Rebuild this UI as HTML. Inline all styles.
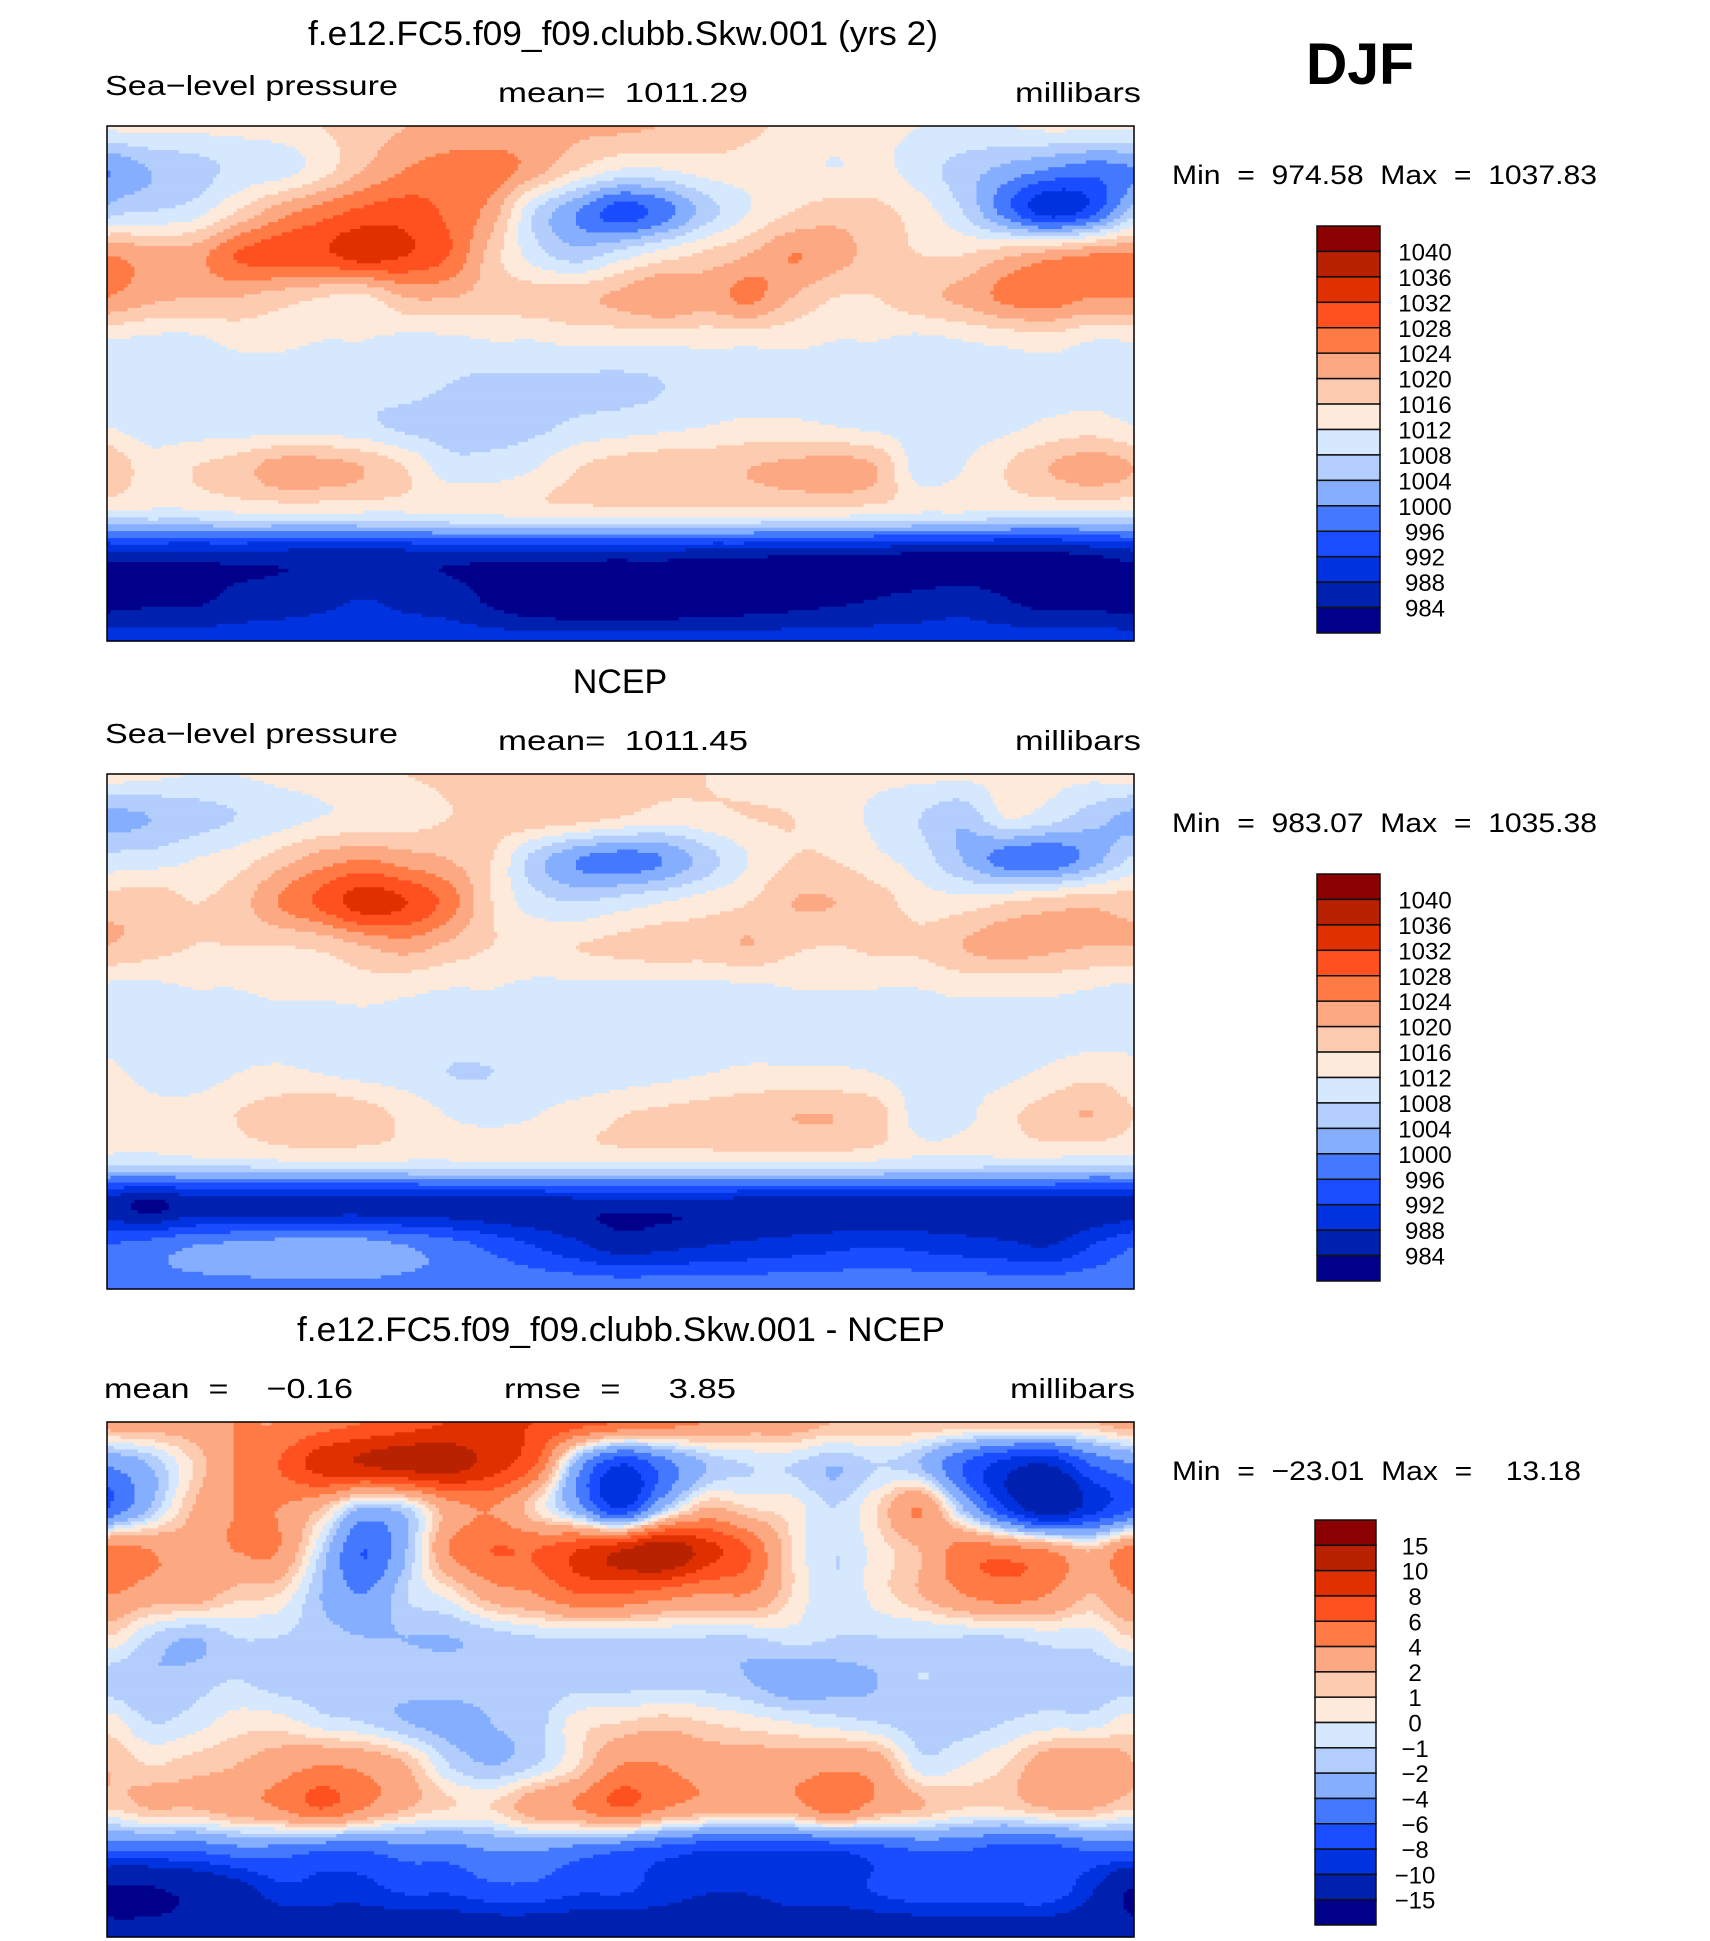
<!DOCTYPE html>
<html><head><meta charset="utf-8">
<style>
html,body{margin:0;padding:0;background:#fff;}
svg{display:block;}
text{font-family:"Liberation Sans",sans-serif;fill:#000;white-space:pre;}
</style></head>
<body>
<svg id="fig" width="1710" height="1941" viewBox="0 0 1710 1941" xmlns="http://www.w3.org/2000/svg" xml:space="preserve">
<rect width="1710" height="1941" fill="#fff"/>
<text x="1306" y="84" font-size="58" font-weight="bold" textLength="108" lengthAdjust="spacingAndGlyphs">DJF</text>

<text x="308" y="45" font-size="34" textLength="630" lengthAdjust="spacingAndGlyphs">f.e12.FC5.f09_f09.clubb.Skw.001 (yrs 2)</text>
<text x="105" y="95" font-size="28" textLength="293" lengthAdjust="spacingAndGlyphs">Sea−level pressure</text>
<text x="498" y="102" font-size="28" textLength="250" lengthAdjust="spacingAndGlyphs">mean=  1011.29</text>
<text x="1015" y="102" font-size="28" textLength="126" lengthAdjust="spacingAndGlyphs">millibars</text>
<text x="1172" y="184" font-size="27" textLength="425" lengthAdjust="spacingAndGlyphs">Min  =  974.58  Max  =  1037.83</text>
<g id="map1"></g>
<g id="cb1"></g>

<text x="620" y="693" font-size="34" text-anchor="middle">NCEP</text>
<text x="105" y="743" font-size="28" textLength="293" lengthAdjust="spacingAndGlyphs">Sea−level pressure</text>
<text x="498" y="750" font-size="28" textLength="250" lengthAdjust="spacingAndGlyphs">mean=  1011.45</text>
<text x="1015" y="750" font-size="28" textLength="126" lengthAdjust="spacingAndGlyphs">millibars</text>
<text x="1172" y="832" font-size="27" textLength="425" lengthAdjust="spacingAndGlyphs">Min  =  983.07  Max  =  1035.38</text>
<g id="map2"></g>
<g id="cb2"></g>

<text x="297" y="1341" font-size="34" textLength="648" lengthAdjust="spacingAndGlyphs">f.e12.FC5.f09_f09.clubb.Skw.001 - NCEP</text>
<text x="104" y="1398" font-size="28" textLength="249" lengthAdjust="spacingAndGlyphs">mean  =    −0.16</text>
<text x="504" y="1398" font-size="28" textLength="232" lengthAdjust="spacingAndGlyphs">rmse  =     3.85</text>
<text x="1010" y="1398" font-size="28" textLength="125" lengthAdjust="spacingAndGlyphs">millibars</text>
<text x="1172" y="1480" font-size="27" textLength="409" lengthAdjust="spacingAndGlyphs">Min  =  −23.01  Max  =    13.18</text>
<g id="map3"></g>
<g id="cb3"></g>
</svg>

<script>
const colors = ['#00008A','#0020B0','#0032E0','#1A4DFF','#4478FF','#85AEFE','#B3CDFD','#D6E8FD','#FEEADB','#FDCBB0','#FCA983','#FF7A45','#FF5020','#E03000','#B82200','#8B0000'];
const slpLevels = [984,988,992,996,1000,1004,1008,1012,1016,1020,1024,1028,1032,1036,1040];
const diffLevels = [-15,-10,-8,-6,-4,-2,-1,0,1,2,4,6,8,10,15];
const slpTickLabels = ['1040','1036','1032','1028','1024','1020','1016','1012','1008','1004','1000','996','992','988','984'];
const diffTickLabels = ['15','10','8','6','4','2','1','0','−1','−2','−4','−6','−8','−10','−15'];
const lons = [0,15,30,45,60,75,90,105,120,135,150,165,180,195,210,225,240,255,270,285,300,315,330,345,360];
const lats = [90,75,60,45,30,15,0,-15,-30,-45,-60,-75,-90];

const modelSLP = [
[1013,1013,1013,1013,1014,1016,1018,1020,1021,1021,1021,1021,1021,1020,1019,1017,1015,1014,1013,1012,1012,1012,1013,1013,1013],
[1000,1004,1006,1009,1010,1014,1020,1024,1026,1026,1022,1016,1012,1012,1014,1014,1013,1012,1013,1010,1006,1003,1000,998,1000],
[1006,1008,1010,1016,1022,1026,1029,1030,1027,1022,1008,1000,994,998,1006,1012,1016,1018,1017,1014,1008,998,990,994,1006],
[1024,1022,1022,1028,1030,1031,1034,1032,1028,1018,1010,1006,1010,1014,1017,1020,1024,1022,1018,1016,1016,1019,1022,1024,1024],
[1024,1021,1020,1020,1018,1016,1015,1020,1020,1018,1018,1019,1021,1024,1022,1025,1020,1016,1016,1019,1021,1025,1026,1024,1024],
[1012,1011,1011,1013,1013,1012,1012,1011,1011,1012,1012,1013,1013,1013,1013,1013,1013,1012,1012,1011,1012,1013,1014,1012,1012],
[1010,1010,1010,1010,1010,1010,1010,1010,1008,1007,1007,1007,1007,1008,1010,1010,1010,1010,1010,1010,1010,1010,1010,1010,1010],
[1012,1010,1010,1010,1010,1010,1009,1007,1006,1006,1007,1009,1010,1011,1012,1013,1013,1012,1011,1010,1010,1011,1013,1014,1012],
[1020,1014,1016,1018,1022,1022,1020,1016,1010,1010,1012,1016,1018,1019,1019,1020,1021,1022,1020,1010,1012,1016,1020,1022,1020],
[1011,1011,1011,1012,1012,1012,1012,1012,1013,1013,1014,1014,1014,1014,1014,1014,1014,1014,1013,1012,1012,1011,1011,1011,1011],
[986,986,986,986,986,986,986,986,986,986,986,986,986,986,985,985,984,984,984,983,983,983,983,984,986],
[982,983,983,985,986,987,988,987,986,983,980,979,978,979,980,981,982,983,984,985,986,984,982,982,982],
[990,990,990,990,990,990,990,990,990,990,990,990,990,990,990,990,990,990,990,990,990,990,990,990,990]
];
const ncepSLP = [
[1014,1013,1012,1012,1013,1014,1015,1016,1017,1017,1018,1018,1018,1017,1016,1015,1014,1013,1013,1013,1013,1013,1013,1013,1014],
[1003,1004,1006,1008,1010,1012,1013,1014,1016,1018,1019,1018,1016,1014,1015,1016,1016,1014,1011,1008,1005,1012,1010,1006,1003],
[1009,1010,1012,1014,1018,1022,1024,1022,1020,1016,1006,1000,998,1000,1006,1012,1016,1016,1013,1010,1004,998,997,1002,1009],
[1018,1019,1016,1018,1024,1029,1034,1032,1026,1016,1010,1008,1010,1012,1014,1016,1020,1020,1018,1014,1014,1016,1018,1019,1018],
[1020,1018,1016,1016,1016,1017,1020,1022,1019,1016,1015,1016,1017,1018,1018,1020,1017,1016,1017,1017,1020,1022,1021,1020,1020],
[1011,1011,1012,1012,1013,1013,1014,1013,1012,1012,1011,1011,1011,1011,1011,1011,1012,1012,1012,1012,1013,1013,1013,1012,1011],
[1011,1010,1010,1010,1010,1010,1010,1010,1010,1010,1010,1010,1010,1010,1010,1010,1010,1010,1010,1010,1010,1010,1010,1010,1011],
[1013,1011,1010,1012,1013,1012,1011,1010,1008,1008,1009,1009,1010,1011,1012,1013,1013,1013,1012,1010,1010,1011,1013,1015,1013],
[1016,1013,1014,1016,1018,1020,1018,1015,1012,1011,1012,1014,1016,1017,1018,1019,1020,1020,1018,1010,1011,1015,1018,1020,1016],
[1010,1010,1011,1011,1012,1012,1012,1012,1012,1013,1013,1013,1013,1013,1013,1013,1013,1013,1012,1011,1011,1011,1011,1010,1010],
[986,983,986,986,986,986,986,986,986,986,986,986,986,986,986,986,986,986,986,986,986,986,986,986,986],
[996,998,1000,1001,1002,1002,1002,1000,998,995,992,989,986,987,988,989,990,991,992,991,990,989,988,992,996],
[999,999,999,999,999,999,999,999,999,999,999,999,999,999,999,999,999,999,999,999,999,999,999,999,999]
];
const diffSLP = [
[3,3,3,4,4,5,6,7,8,8,8,7,6,5,4,3,3,2,2,2,2,2,2,2,3],
[-4,-2,1,4,6,9,10,11,11,9,6,-3,-8,-5,-2,-1,-1,-2,-1,-2,-6,-9,-10,-6,-4],
[-6,-2,2,4,4,2,-2,-1,3,4,1,-3,-8,-2,2,1,0.5,-1,1,4,-2,-8,-12,-9,-6],
[5,4,3,4,4,-1,-6,-2,4,6,6,8,10,12,9,6,1,-1,0.5,2,5,5,4,2,5],
[4,3,3,1.5,1,-2,-4,-1,0.5,3,4,6,6,5,4,4,1,-1,0.5,2,4,5,4,2,4],
[1,-1,-2,-1,-1,-1.5,-2,-2,-2,-1.5,-1,-1,-1,-1,-1,-1,-0.5,-1,-1,-1,-1,-1,-0.5,-0.5,1],
[-1.5,-2,-1.5,-1,-1.5,-1.5,-1.5,-1.5,-1.5,-1.5,-1.5,-1.5,-1.5,-1.5,-1.5,-2,-3,-2.5,-2,-1,-1.5,-1.5,-1.5,-1.5,-1.5],
[0.5,-1,-0.5,0.5,0.5,-0.5,-1,-2,-2.5,-2,-1.5,0.5,1,1.5,1,0.5,0,-0.5,-1,-1.5,-1.5,-1,-0.5,-0.5,0.5],
[2,1,1.5,2,3,4,3.5,2,-1,-2,-1,1,4,4,3,3,3,3.5,3,-0.5,0,1,3,3.5,2],
[1,2,2,3,4,6,4,2,1,1,3,4,6,4,3,3,3,5,3,2,1,1,2,2,1],
[-6,-6,-6,-5,-5,-6,-6,-5,-5,-4,-4,-5,-6,-7,-8,-8,-8,-8,-7,-6,-6,-7,-7,-6,-6],
[-16,-16,-14,-12,-9,-9,-9,-8,-8,-7,-7,-8,-8,-9,-10,-10,-9,-9,-8,-7,-7,-7,-7,-10,-16],
[-13,-13,-13,-13,-13,-13,-13,-13,-13,-13,-13,-13,-13,-13,-13,-13,-13,-13,-13,-13,-13,-13,-13,-13,-13]
];

const NS = 'http://www.w3.org/2000/svg';
const MAP_X = 107, MAP_W = 1027, MAP_H = 515;
function xScale(lon){ return MAP_X + (lon - lons[0]) / (lons[lons.length-1] - lons[0]) * MAP_W; }
function yScale(lat, top){ return top + (lats[0] - lat) / (lats[0] - lats[lats.length-1]) * MAP_H; }
function cr(p0,p1,p2,p3,t){
  return 0.5*((2*p1) + (-p0+p2)*t + (2*p0-5*p1+4*p2-p3)*t*t + (-p0+3*p1-3*p2+p3)*t*t*t);
}
function sample(grid, lon, lat){
  const nLon = lons.length - 1, nLat = lats.length;
  const fx = (lon - lons[0]) / 15, fy = (lats[0] - lat) / 15;
  const j = Math.floor(fx), i = Math.min(Math.floor(fy), nLat - 2);
  const tx = fx - j, ty = fy - i;
  const row = r => { const rr = Math.max(0, Math.min(nLat-1, r)); const g = grid[rr];
    const c = k => g[((k % nLon) + nLon) % nLon];
    return cr(c(j-1), c(j), c(j+1), c(j+2), tx); };
  return cr(row(i-1), row(i), row(i+1), row(i+2), ty);
}
function levelIndex(v, levels){ let k = 0; while (k < levels.length && v >= levels[k]) k++; return k; }

function drawMap(gid, grid, levels, top){
  const g = document.getElementById(gid);
  const NX = 300, NY = 150;
  const dLon = 360 / NX, dLat = 180 / NY;
  for (let r = 0; r < NY; r++){
    const latC = 90 - (r + 0.5) * dLat;
    const y0 = yScale(90 - r * dLat, top), y1 = yScale(90 - (r + 1) * dLat, top);
    let runStart = 0, runIdx = -1;
    for (let c = 0; c <= NX; c++){
      let idx = -2;
      if (c < NX) idx = levelIndex(sample(grid, (c + 0.5) * dLon, latC), levels);
      if (idx !== runIdx){
        if (runIdx >= 0){
          const rect = document.createElementNS(NS, 'rect');
          
          
          const x0 = xScale(runStart * dLon), x1 = xScale(c * dLon);
          rect.setAttribute('x', x0.toFixed(2));
          rect.setAttribute('y', y0.toFixed(2));
          rect.setAttribute('width', (x1 - x0 + 0.6).toFixed(2));
          rect.setAttribute('height', (y1 - y0 + 0.6).toFixed(2));
          rect.setAttribute('fill', colors[runIdx]);
          g.appendChild(rect);
        }
        runStart = c; runIdx = idx;
      }
    }
  }
  const border = document.createElementNS(NS, 'rect');
  
  
  border.setAttribute('x', MAP_X); border.setAttribute('y', top);
  border.setAttribute('width', MAP_W); border.setAttribute('height', MAP_H);
  border.setAttribute('fill', 'none'); border.setAttribute('stroke', '#000'); border.setAttribute('stroke-width', '1.5');
  g.appendChild(border);
}

function drawColorbar(gid, labels, x, top, w, h, labelX){
  const g = document.getElementById(gid);
  const n = colors.length, bh = h / n;
  for (let k = 0; k < n; k++){
    const rect = document.createElementNS(NS, 'rect');
    
    
    rect.setAttribute('x', x); rect.setAttribute('y', top + k * bh);
    rect.setAttribute('width', w); rect.setAttribute('height', bh);
    rect.setAttribute('fill', colors[n - 1 - k]);
    rect.setAttribute('stroke', '#111'); rect.setAttribute('stroke-width', '1.5');
    g.appendChild(rect);
  }
  labels.forEach((lab, k) => {
    const t = document.createElementNS(NS, 'text');
    
    
    t.setAttribute('x', labelX); t.setAttribute('y', top + (k + 1) * bh + 9);
    t.setAttribute('font-size', '24'); t.setAttribute('text-anchor', 'middle');
    t.textContent = lab;
    g.appendChild(t);
  });
}

drawMap('map1', modelSLP, slpLevels, 126);
drawMap('map2', ncepSLP, slpLevels, 774);
drawMap('map3', diffSLP, diffLevels, 1422);
drawColorbar('cb1', slpTickLabels, 1317, 226, 63, 407, 1425);
drawColorbar('cb2', slpTickLabels, 1317, 874, 63, 407, 1425);
drawColorbar('cb3', diffTickLabels, 1315, 1520, 61, 405, 1415);
</script>
</body></html>
